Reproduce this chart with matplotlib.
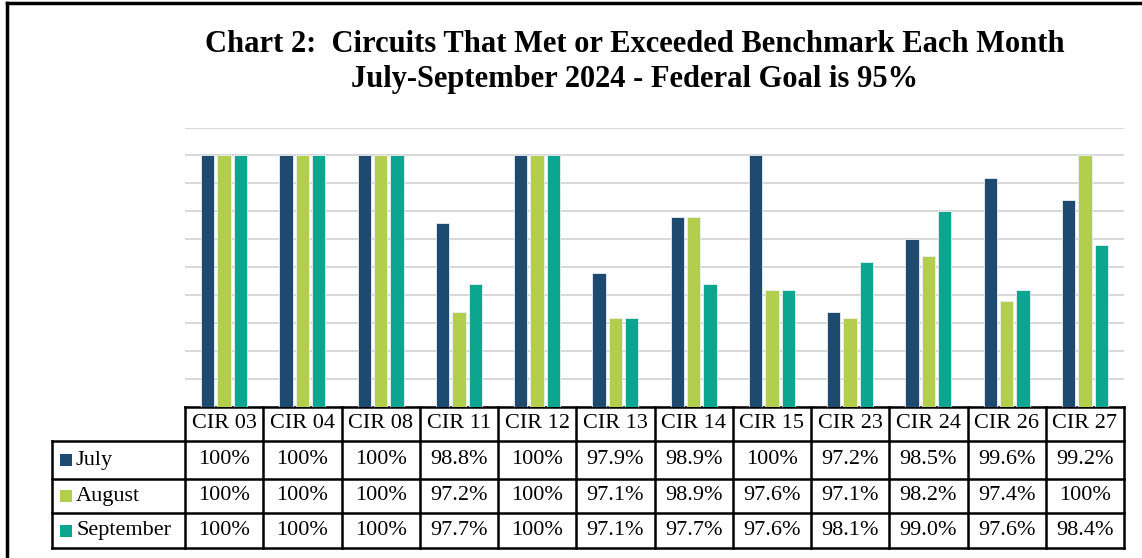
import numpy as np
import matplotlib.pyplot as plt
from matplotlib.patches import Rectangle

circuits = ['CIR 03', 'CIR 04', 'CIR 08', 'CIR 11', 'CIR 12', 'CIR 13',
            'CIR 14', 'CIR 15', 'CIR 23', 'CIR 24', 'CIR 26', 'CIR 27']
months = ['July', 'August', 'September']
july = [100, 100, 100, 98.8, 100, 97.9, 98.9, 100, 97.2, 98.5, 99.6, 99.2]
august = [100, 100, 100, 97.2, 100, 97.1, 98.9, 97.6, 97.1, 98.2, 97.4, 100]
september = [100, 100, 100, 97.7, 100, 97.1, 97.7, 97.6, 98.1, 99.0, 97.6, 98.4]
colors = ['#1F4A70', '#B3CE4D', '#0CA590']

W, H = 1142, 558
fig = plt.figure(figsize=(W / 100, H / 100), dpi=100)
plt.rcParams['font.family'] = ['Liberation Serif', 'DejaVu Serif']

# plot area in pixels
left, right, top, bottom = 185, 1124, 127.5, 407
ax = fig.add_axes([left / W, 1 - bottom / H, (right - left) / W, (bottom - top) / H])

x = np.arange(len(circuits))
bw = 0.17
step = 0.21
series = [july, august, september]
for k, vals in enumerate(series):
    ax.bar(x + (k - 1) * step, vals, width=bw, color=colors[k],
           edgecolor='#EAF0F5', linewidth=0.6, zorder=3)

ax.set_xlim(-0.5, len(circuits) - 0.5)
ax.set_ylim(95.5, 100.5)
ax.set_yticks(np.arange(95.5, 100.51, 0.5))
ax.set_yticklabels([])
ax.set_xticks([])
ax.tick_params(length=0)
ax.grid(axis='y', color='#D9D9D9', linewidth=1.5, zorder=0)
for s in ax.spines.values():
    s.set_visible(False)

# data table below the plot, in axes coordinates
ah = bottom - top
def fy(py):
    return (bottom - py) / ah

n = len(circuits)
row_y = [407, 441, 479, 513, 548]
lab_left = (52 - left) / (right - left)
lw = 1.8
kw = dict(transform=ax.transAxes, clip_on=False, color='black', lw=lw,
          solid_capstyle='projecting')
tsize = 16

# header row
ax.plot([0, 1], [fy(row_y[0])] * 2, **kw)
for i in range(n + 1):
    ax.plot([i / n] * 2, [fy(row_y[0]), fy(row_y[-1])], **kw)
ax.plot([lab_left] * 2, [fy(row_y[1]), fy(row_y[-1])], **kw)
for py in row_y[1:]:
    ax.plot([lab_left, 1], [fy(py)] * 2, **kw)

for i, c in enumerate(circuits):
    ax.text((i + 0.5) / n, fy((row_y[0] + row_y[1]) / 2), c, transform=ax.transAxes,
            ha='center', va='center', fontsize=tsize)

for r, (m, vals) in enumerate(zip(months, series)):
    yc = fy((row_y[r + 1] + row_y[r + 2]) / 2)
    sq = 12 / (right - left)
    sqh = 12 / ah
    ax.add_patch(Rectangle(((60 - left) / (right - left), yc - sqh / 2), sq, sqh,
                           transform=ax.transAxes, clip_on=False,
                           facecolor=colors[r], edgecolor='none'))
    ax.text((76 - left) / (right - left), yc, m, transform=ax.transAxes,
            ha='left', va='center', fontsize=tsize)
    for i, v in enumerate(vals):
        txt = '100%' if v == 100 else f'{v:.1f}%'
        ax.text((i + 0.5) / n, yc, txt, transform=ax.transAxes,
                ha='center', va='center', fontsize=tsize)

# title
fig.text(635 / W, 1 - 52 / H, 'Chart 2:  Circuits That Met or Exceeded Benchmark Each Month',
         ha='center', va='baseline', fontsize=22, fontweight='bold')
fig.text(635 / W, 1 - 87 / H, 'July-September 2024 - Federal Goal is 95%',
         ha='center', va='baseline', fontsize=22, fontweight='bold')

# outer frame (cut off at right and bottom)
fig.add_artist(plt.Line2D([7 / W, 7 / W], [0, 1 - 3 / H], color='black', lw=2.5))
fig.add_artist(plt.Line2D([7 / W, 1], [1 - 3 / H, 1 - 3 / H], color='black', lw=2.5))

fig.savefig('out.png', dpi=100)
